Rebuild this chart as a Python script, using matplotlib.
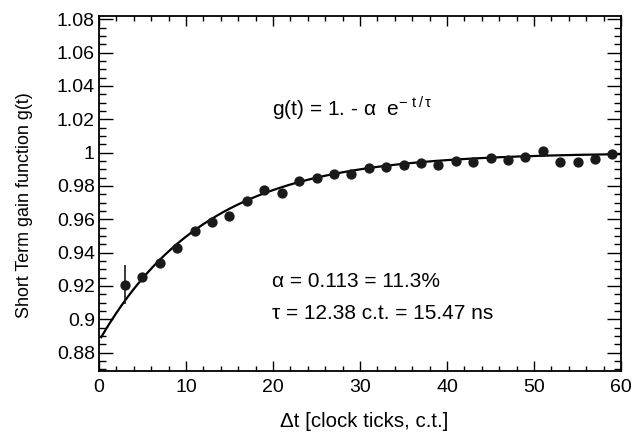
import numpy as np
import matplotlib
matplotlib.use('Agg')
import matplotlib.pyplot as plt
from matplotlib.ticker import MultipleLocator

plt.rcParams['font.family'] = ['Liberation Sans', 'DejaVu Sans']
plt.rcParams['mathtext.fontset'] = 'custom'
plt.rcParams['mathtext.rm'] = 'Liberation Sans'

# ===== data
dt = [3, 5, 7, 9, 11, 13, 15, 17, 19, 21, 23, 25, 27, 29, 31, 33, 35, 37, 39,
      41, 43, 45, 47, 49, 51, 53, 55, 57, 59]
gain = [0.9208, 0.9254, 0.9336, 0.9430, 0.9532, 0.9584, 0.9618, 0.9710, 0.9778,
        0.9758, 0.9832, 0.9846, 0.9872, 0.9872, 0.9906, 0.9914, 0.9926, 0.9936,
        0.9928, 0.9948, 0.9946, 0.9970, 0.9958, 0.9972, 1.0010, 0.9944, 0.9944,
        0.9964, 0.9990]
gain_err = [0.0115] + [0.0] * (len(dt) - 1)

# fit result shown on the plot
alpha = 0.113
tau = 12.38
fit_range = [0.25, 60]

fig = plt.figure(figsize=(6.42, 4.32), dpi=100)
ax = fig.add_axes([0.1542, 0.1412, 0.8131, 0.8218])

t = np.linspace(fit_range[0], fit_range[1], 400)
ax.plot(t, 1. - alpha * np.exp(-t / tau), color='black', lw=1.6, zorder=2)
ax.errorbar(dt, gain, yerr=gain_err, fmt='o', color='#1a1a1a', ms=6.4,
            elinewidth=1.2, capsize=0, zorder=3)

ax.set_xlim(0, 60)
ax.set_ylim(0.869, 1.082)
ax.xaxis.set_major_locator(MultipleLocator(10))
ax.xaxis.set_minor_locator(MultipleLocator(2))
ax.yaxis.set_minor_locator(MultipleLocator(0.005))
ax.set_yticks(np.arange(0.88, 1.0801, 0.02))
ax.set_yticklabels(['0.88', '0.9', '0.92', '0.94', '0.96', '0.98', '1',
                    '1.02', '1.04', '1.06', '1.08'])

ax.tick_params(which='both', direction='in', top=True, right=True, labelsize=14,
               width=1.0)
ax.tick_params(axis='x', which='major', length=7, pad=6)
ax.tick_params(axis='x', which='minor', length=3.5)
ax.tick_params(axis='y', which='major', length=10, pad=3)
ax.tick_params(axis='y', which='minor', length=5)
for s in ax.spines.values():
    s.set_linewidth(1.3)

fig.text(0.567, 0.024, 'Δt [clock ticks, c.t.]', ha='center', va='center', fontsize=14.8)
fig.text(0.038, 0.525, 'Short Term gain function g(t)', ha='center', va='center',
         rotation=90, fontsize=12.9)

ax.text(19.9, 1.0222, r'g(t) = 1. - α  e$^{\mathregular{-\ t\,/\,τ}}$', fontsize=15,
        va='baseline')
ax.text(19.9, 0.9194, 'α = 0.113 = 11.3%', fontsize=15, va='baseline')
ax.text(19.9, 0.9002, 'τ = 12.38 c.t. = 15.47 ns', fontsize=15, va='baseline')

fig.savefig('out.png', dpi=100)
